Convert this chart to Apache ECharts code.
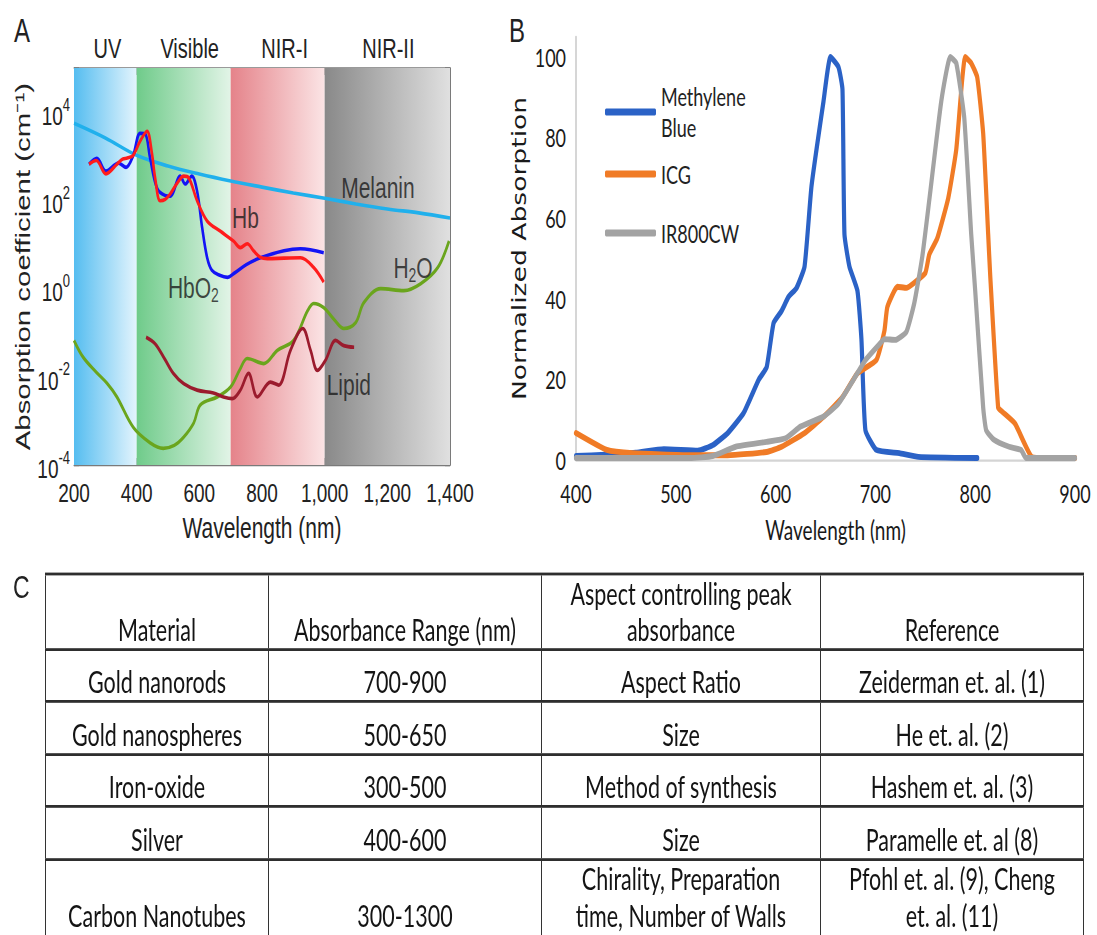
<!DOCTYPE html>
<html>
<head>
<meta charset="utf-8">
<script src="https://cdn.jsdelivr.net/npm/echarts@6/dist/echarts.min.js"></script>
<style>
  html, body { margin:0; padding:0; background:#fff; width:1097px; height:935px; overflow:hidden; }
  #wrap { position:absolute; left:0; top:0; width:1097px; height:668px; transform:scaleY(1.4); transform-origin:0 0; }
  #chart { position:absolute; left:0; top:0; width:1097px; height:400px; }
  #lblC { position:absolute; left:13px; top:406px; font-family:'Liberation Sans', Arial, sans-serif; font-size:23px; font-weight:300; color:#222; }
  #tbl { position:absolute; left:45px; top:408.6px; border-collapse:collapse; font-family:Lato, 'Open Sans', sans-serif; font-size:21.5px; color:#141414; table-layout:fixed; }
  #tbl td { border-left:1.8px solid #333; border-right:1.8px solid #333; border-top:2.1px solid #2e2e2e; border-bottom:2.1px solid #2e2e2e; text-align:center; vertical-align:bottom; line-height:26px; padding:0 4px 0 4px; white-space:nowrap; }
  #tbl tr.last td { padding-bottom:4px; }
</style>
</head>
<body>
<div id="wrap">
  <div id="chart"></div>
  <div id="lblC">C</div>
  <table id="tbl"></table>
</div>
<script>
// ---------------- DATA ----------------
// Panel A: absorption spectra (wavelength nm, absorption coefficient cm^-1)
const bandNames = ['UV', 'Visible', 'NIR-I', 'NIR-II'];
const bandRanges = [[200, 400], [400, 700], [700, 1000], [1000, 1400]];

const melanin = [[200,5600],[300,2600],[400,1050],[500,600],[600,395],[700,275],[800,200],[900,147],[1000,112],[1100,83],[1200,64],[1300,52],[1400,40]];
const hb = [[248,660],[271,800],[302,400],[337,660],[355,860],[370,910],[389,1050],[411,2200],[433,3700],[448,1260],[459,320],[475,98],[491,105],[507,140],[530,250],[550,355],[566,325],[593,98],[625,34],[667,20],[709,12],[731,8.5],[753,10.4],[773,7.2],[795,5.1],[817,4.8],[870,4.9],[923,5],[965,3],[997,1.4]];
const hbo2 = [[248,660],[273,900],[302,460],[342,700],[366,560],[388,1000],[411,3300],[427,3200],[443,900],[465,190],[490,130],[507,125],[539,355],[555,235],[576,355],[593,160],[609,24],[625,5],[640,2.6],[665,2.0],[690,1.8],[710,2.2],[750,3.5],[795,5],[870,7.2],[923,8],[997,6.5]];
const water = [[200,0.067],[229,0.028],[270,0.013],[305,0.0072],[337,0.0035],[389,0.00072],[443,0.00032],[485,0.00024],[520,0.00028],[550,0.00043],[582,0.0009],[603,0.0023],[657,0.0035],[700,0.0059],[730,0.015],[753,0.026],[806,0.02],[849,0.04],[901,0.067],[946,0.32],[965,0.46],[997,0.37],[1030,0.2],[1061,0.125],[1099,0.17],[1125,0.48],[1179,1.0],[1253,0.9],[1307,1.3],[1361,3],[1397,12]];
const lipid = [[430,0.079],[459,0.056],[490,0.025],[517,0.012],[550,0.007],[593,0.005],[645,0.0043],[677,0.0035],[705,0.0032],[731,0.005],[757,0.012],[785,0.0035],[827,0.0076],[853,0.0065],[891,0.04],[930,0.125],[955,0.04],[977,0.014],[1003,0.024],[1035,0.067],[1061,0.051],[1094,0.047]];

const annotTexts = ['Melanin', 'Hb', 'HbO{s|2}', 'H{s|2}O', 'Lipid'];
const annotCoords = [[1170,190],[747,40],[581,1.05],[1282,3],[1077,0.0065]];

// Panel B: normalized absorption (wavelength nm, %)
const dyeNames = ['Methylene Blue', 'ICG', 'IR800CW'];
const methyleneBlue = [[400,1.0],[430,1.3],[460,1.8],[488,2.7],[522,2.3],[537,3.7],[552,6.7],[568,11.7],[583,19.9],[591,23],[598,34],[606,37],[613,40.5],[621,42.7],[629,48],[636,68],[648,89],[655,100],[663,97.5],[667,92],[669,56],[674,48],[682,42],[686,30],[690,7.4],[701,2.5],[724,1.7],[743,0.8],[802,0.5]];
const icg = [[400,6.7],[431,2.5],[457,1.7],[514,1.2],[552,1.2],[591,2],[606,3.3],[629,6.7],[648,10.7],[667,15.6],[682,21.5],[701,24.8],[709,32],[712,38],[722,43],[731,42.7],[739,44],[750,46.4],[754,51],[762,55],[773,65],[781,77],[790,100],[796,98.5],[802,95],[808,81],[813,56],[815,46],[823,13],[827,12],[840,9],[857,0.7],[870,0.5],[900,0.5]];
const ir800cw = [[400,0.5],[514,0.5],[537,1],[560,3.3],[591,4.5],[610,5.4],[625,8.3],[648,10.8],[663,14],[678,19.9],[690,24.8],[705,29],[709,30],[720,29.8],[731,31.8],[739,39],[747,50.5],[754,64.5],[766,89],[775,100],[781,98.5],[789,85],[796,56],[800,42],[808,13],[811,7.4],[819,5],[834,3.3],[846,2.5],[851,0.5],[900,0.5]];

// Panel C: table
const tableHeader = ['Material', 'Absorbance Range (nm)', 'Aspect controlling  peak<br>absorbance', 'Reference'];
const materials = ['Gold nanorods', 'Gold nanospheres', 'Iron-oxide', 'Silver', 'Carbon Nanotubes'];
const ranges = ['700-900', '500-650', '300-500', '400-600', '300-1300'];
const aspects = ['Aspect Ratio', 'Size', 'Method of synthesis', 'Size', 'Chirality, Preparation<br>time, Number of Walls'];
const references = ['Zeiderman et. al. (1)', 'He et. al. (2)', 'Hashem et. al. (3)', 'Paramelle et. al (8)', 'Pfohl et. al. (9), Cheng<br>et. al. (11)'];

// ---------------- TABLE ----------------
(function buildTable() {
  const colW = [223, 273, 279, 263];
  const rowH = [53.6, 37.6, 37.6, 37.2, 37.6, 57.5];
  let html = '<colgroup>' + colW.map(w => '<col style="width:' + w + 'px">').join('') + '</colgroup>';
  html += '<tr style="height:' + rowH[0] + 'px">' + tableHeader.map(h => '<td>' + h + '</td>').join('') + '</tr>';
  materials.forEach((m, i) => {
    const cls = i === materials.length - 1 ? ' class="last"' : '';
    html += '<tr' + cls + ' style="height:' + rowH[i + 1] + 'px"><td>' + m + '</td><td>' + ranges[i] + '</td><td>' + aspects[i] + '</td><td>' + references[i] + '</td></tr>';
  });
  document.getElementById('tbl').innerHTML = html;
})();

// ---------------- CHART ----------------
const ARIAL = "'Liberation Sans', Arial, sans-serif";
const CAL = "Lato, 'Open Sans', sans-serif";
const bandGradients = [
  ['#55bdf0', '#e3f4fd'],
  ['#6fcb8a', '#e2f4e7'],
  ['#e5838a', '#fbe4e5'],
  ['#898989', '#e0e0e0']
];
const bandLabelOffsets = [[2,0],[6,0],[7,0],[1,0]];

function commaFmt(v) {
  const s = String(v);
  return v >= 1000 ? s.slice(0, s.length - 3) + ',' + s.slice(s.length - 3) : s;
}
function logFmt(v) {
  const e = Math.round(Math.log10(v));
  if (e % 2 !== 0) return '';
  return '{b|10}{s|' + e + '}';
}

const chart = echarts.init(document.getElementById('chart'), null, { renderer: 'svg' });

const frameColor = '#7a7a7a';
const lineA = (name, data, color) => ({
  name, type: 'line', xAxisIndex: 0, yAxisIndex: 0, data, smooth: 0.35,
  showSymbol: false, symbol: 'none', lineStyle: { color, width: 2.6 }, z: 3, silent: true
});
const lineB = (name, data, color, z) => ({
  name, type: 'line', xAxisIndex: 2, yAxisIndex: 2, data, smooth: 0.15,
  showSymbol: false, symbol: 'none', itemStyle: { color }, lineStyle: { color, width: 4.2, cap: 'round', join: 'round' }, z, silent: true
});

const legendBase = {
  left: 605, orient: 'vertical', padding: 0, itemWidth: 51, itemHeight: 5, icon: 'roundRect',
  selectedMode: false,
  textStyle: { fontFamily: CAL, fontSize: 18, color: '#222', lineHeight: 22 }
};

const option = {
  animation: false,
  backgroundColor: '#fff',
  graphic: [
    { type: 'text', left: 14, top: 10, style: { text: 'A', font: "300 24px 'Liberation Sans', Arial, sans-serif", fill: '#222' } },
    { type: 'text', left: 509, top: 10, style: { text: 'B', font: "300 24px 'Liberation Sans', Arial, sans-serif", fill: '#222' } }
  ],
  grid: [
    { left: 74, top: 48.6, width: 376, height: 283.6 },
    { left: 576, top: 26.3, width: 499, height: 302.3 }
  ],
  legend: [
    Object.assign({}, legendBase, { data: [dyeNames[0]], top: 47, formatter: () => 'Methylene\nBlue',
      textStyle: Object.assign({}, legendBase.textStyle, { padding: [22, 0, 0, 0] }) }),
    Object.assign({}, legendBase, { data: [dyeNames[1]], top: 113.3 }),
    Object.assign({}, legendBase, { data: [dyeNames[2]], top: 155.4 })
  ],
  xAxis: [
    {
      gridIndex: 0, type: 'value', min: 200, max: 1400, interval: 200, position: 'bottom',
      axisLine: { show: true, onZero: false, lineStyle: { color: frameColor, width: 1 } },
      axisTick: { show: true, inside: true, length: 5, lineStyle: { color: frameColor } },
      axisLabel: { fontFamily: ARIAL, fontSize: 19, color: '#222', margin: 10, formatter: commaFmt },
      splitLine: { show: false },
      name: 'Wavelength (nm)', nameLocation: 'middle', nameGap: 34,
      nameTextStyle: { fontFamily: ARIAL, fontSize: 21, color: '#222' }
    },
    {
      gridIndex: 0, type: 'value', min: 200, max: 1400, interval: 200, position: 'top',
      axisLine: { show: true, onZero: false, lineStyle: { color: frameColor, width: 1 } },
      axisTick: { show: true, inside: true, length: 5, lineStyle: { color: frameColor } },
      axisLabel: { show: false }, splitLine: { show: false }
    },
    {
      gridIndex: 1, type: 'value', min: 400, max: 900, interval: 100,
      axisLine: { show: true, onZero: false, lineStyle: { color: '#d4d4d4', width: 1.5 } },
      axisTick: { show: false },
      axisLabel: { fontFamily: CAL, fontSize: 18, color: '#1a1a1a', margin: 15 },
      splitLine: { show: false },
      name: 'Wavelength (nm)', nameLocation: 'middle', nameGap: 40,
      nameTextStyle: { fontFamily: CAL, fontSize: 19, color: '#1a1a1a', padding: [0, 0, 0, 20] }
    }
  ],
  yAxis: [
    {
      gridIndex: 0, type: 'log', logBase: 10, min: 1e-4, max: 1e5, interval: 2,
      axisLine: { show: true, onZero: false, lineStyle: { color: frameColor, width: 1 } },
      axisTick: { show: true, inside: true, length: 5, lineStyle: { color: frameColor } },
      minorTick: { show: false },
      axisLabel: {
        margin: 4, formatter: logFmt, color: '#222',
        rich: {
          b: { fontFamily: ARIAL, fontSize: 19, color: '#222', lineHeight: 24, verticalAlign: 'bottom' },
          s: { fontFamily: ARIAL, fontSize: 13, color: '#222', lineHeight: 24, verticalAlign: 'top' }
        }
      },
      splitLine: { show: false },
      name: 'Absorption coefficient (cm\u207B\u00B9)', nameLocation: 'middle', nameGap: 41,
      nameTextStyle: { fontFamily: ARIAL, fontSize: 21, color: '#222' }
    },
    {
      gridIndex: 0, type: 'log', logBase: 10, min: 1e-4, max: 1e5, interval: 2, position: 'right',
      axisLine: { show: true, onZero: false, lineStyle: { color: frameColor, width: 1 } },
      axisTick: { show: true, inside: true, length: 5, lineStyle: { color: frameColor } },
      axisLabel: { show: false }, splitLine: { show: false }
    },
    {
      gridIndex: 1, type: 'value', min: 0, max: 105, interval: 20,
      axisLine: { show: true, lineStyle: { color: '#c8c8c8', width: 1.5 } },
      axisTick: { show: false },
      axisLabel: { fontFamily: CAL, fontSize: 18, color: '#1a1a1a', margin: 10,
        formatter: v => (v % 20 === 0 ? String(v) : '') },
      splitLine: { show: false },
      name: 'Normalized Absorption', nameLocation: 'middle', nameGap: 47,
      nameTextStyle: { fontFamily: "'DejaVu Sans', sans-serif", fontSize: 19, color: '#1a1a1a' }
    }
  ],
  series: [
    {
      name: 'bands', type: 'line', xAxisIndex: 0, yAxisIndex: 0, data: [], z: 1, silent: true,
      markArea: {
        silent: true,
        data: bandNames.map((n, i) => [
          {
            name: n, xAxis: bandRanges[i][0],
            itemStyle: { opacity: 1, color: { type: 'linear', x: 0, y: 0, x2: 1, y2: 0,
              colorStops: [{ offset: 0, color: bandGradients[i][0] }, { offset: 1, color: bandGradients[i][1] }] } },
            label: { show: true, position: 'top', distance: 4, offset: bandLabelOffsets[i],
              fontFamily: ARIAL, fontSize: 20, color: '#222' }
          },
          { xAxis: bandRanges[i][1] }
        ])
      }
    },
    lineA('Melanin', melanin, '#20b0ec'),
    lineA('H2O', water, '#6aa51d'),
    lineA('Lipid', lipid, '#9b1b2d'),
    lineA('HbO2', hbo2, '#1414f5'),
    lineA('Hb', hb, '#ff1c1c'),
    {
      name: 'labels', type: 'scatter', xAxisIndex: 0, yAxisIndex: 0, symbolSize: 0, silent: true, z: 5,
      data: annotCoords.map((c, i) => ({ value: c, label: { formatter: annotTexts[i] } })),
      label: {
        show: true, position: 'inside', fontFamily: ARIAL, fontSize: 21, color: '#1a1a1a',
        rich: { s: { fontFamily: ARIAL, fontSize: 14, color: '#1a1a1a', padding: [12, 0, 0, 0] } }
      }
    },
    lineB(dyeNames[0], methyleneBlue, '#2b62c6', 3),
    lineB(dyeNames[1], icg, '#f07b26', 4),
    lineB(dyeNames[2], ir800cw, '#a3a3a3', 5)
  ]
};
chart.setOption(option);
</script>
</body>
</html>
